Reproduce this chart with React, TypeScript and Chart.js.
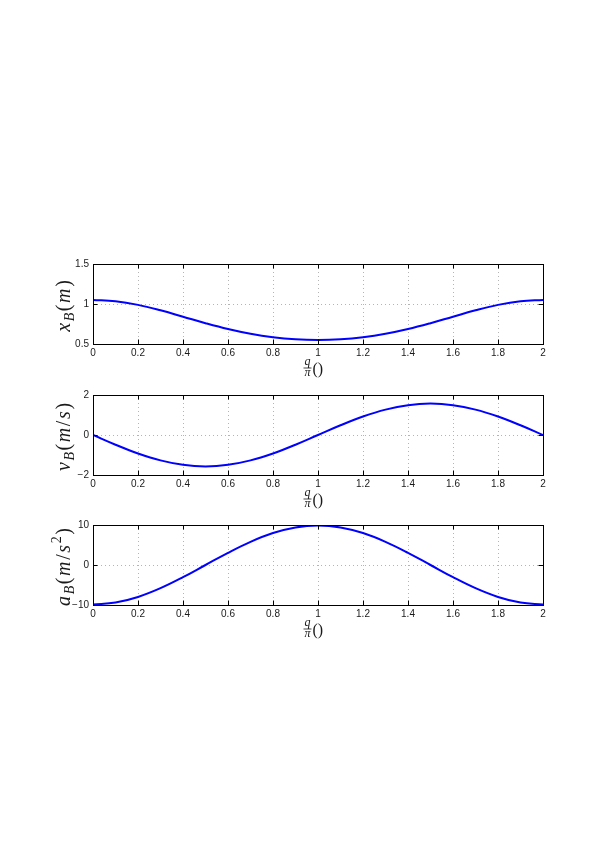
import React, { useEffect, useRef } from "react";
import { Chart, registerables } from "chart.js";

Chart.register(...registerables);

// q/pi sample positions
const qValues = [0, 0.1, 0.2, 0.3, 0.4, 0.5, 0.6, 0.7, 0.8, 0.9, 1.0, 1.1, 1.2, 1.3, 1.4, 1.5, 1.6, 1.7, 1.8, 1.9, 2.0];
// position x_B (m)
const xB = [1.05, 1.034, 0.989, 0.921, 0.841, 0.76, 0.687, 0.627, 0.584, 0.5585, 0.55, 0.5585, 0.584, 0.627, 0.687, 0.76, 0.841, 0.921, 0.989, 1.034, 1.05];
// velocity v_B (m/s)
const vB = [0, -0.485, -0.923, -1.27, -1.493, -1.57, -1.493, -1.27, -0.923, -0.485, 0, 0.485, 0.923, 1.27, 1.493, 1.57, 1.493, 1.27, 0.923, 0.485, 0];
// acceleration a_B (m/s^2)
const aB = [-9.87, -9.39, -7.99, -5.8, -3.05, 0, 3.05, 5.8, 7.99, 9.39, 9.87, 9.39, 7.99, 5.8, 3.05, 0, -3.05, -5.8, -7.99, -9.39, -9.87];

const xTicks = [0, 0.2, 0.4, 0.6, 0.8, 1, 1.2, 1.4, 1.6, 1.8, 2];
const xTickLabels = ["0", "0.2", "0.4", "0.6", "0.8", "1", "1.2", "1.4", "1.6", "1.8", "2"];

type Seg = { t: string; italic?: boolean; sub?: boolean; sup?: boolean };

const panels = [
  {
    top: 264,
    values: xB,
    yMin: 0.5,
    yMax: 1.5,
    yTicks: [0.5, 1, 1.5],
    yTickLabels: ["0.5", "1", "1.5"],
    label: [
      { t: "x", italic: true },
      { t: "B", italic: true, sub: true },
      { t: "(" },
      { t: "m", italic: true },
      { t: ")" },
    ] as Seg[],
  },
  {
    top: 395,
    values: vB,
    yMin: -2,
    yMax: 2,
    yTicks: [-2, 0, 2],
    yTickLabels: ["\u22122", "0", "2"],
    label: [
      { t: "v", italic: true },
      { t: "B", italic: true, sub: true },
      { t: "(" },
      { t: "m", italic: true },
      { t: "/" },
      { t: "s", italic: true },
      { t: ")" },
    ] as Seg[],
  },
  {
    top: 525,
    values: aB,
    yMin: -10,
    yMax: 10,
    yTicks: [-10, 0, 10],
    yTickLabels: ["\u221210", "0", "10"],
    label: [
      { t: "a", italic: true },
      { t: "B", italic: true, sub: true },
      { t: "(" },
      { t: "m", italic: true },
      { t: "/" },
      { t: "s", italic: true },
      { t: "2", sup: true },
      { t: ")" },
    ] as Seg[],
  },
];

const CANVAS_W = 599;
const CANVAS_H = 130;
const PAD_TOP = 10;
const PLOT_H = 80;
const Y_AXIS_W = 93;
const PAD_RIGHT = 56;
const SERIF = '"Liberation Serif", "DejaVu Serif", serif';
const SANS = '"Liberation Sans", Arial, sans-serif';
const GAP = 1.6;

function segFont(s: Seg) {
  const size = s.sub || s.sup ? 14 : 20;
  return `${s.italic ? "italic " : ""}${size}px ${SERIF}`;
}

function Panel({ cfg }: { cfg: (typeof panels)[number] }) {
  const ref = useRef<HTMLCanvasElement | null>(null);
  useEffect(() => {
    if (!ref.current) return;
    const decor = {
      id: "decor",
      afterDraw(chart: any) {
        const ctx = chart.ctx as CanvasRenderingContext2D;
        const a = chart.chartArea;
        const xs = chart.scales.x;
        const ys = chart.scales.y;
        ctx.save();
        // box
        ctx.strokeStyle = "#000";
        ctx.lineWidth = 1;
        ctx.strokeRect(Math.round(a.left) + 0.5, Math.round(a.top) + 0.5, Math.round(a.right - a.left), Math.round(a.bottom - a.top));
        // inward ticks
        const tl = 4.5;
        ctx.beginPath();
        for (const v of xTicks) {
          const px = Math.round(xs.getPixelForValue(v)) + 0.5;
          ctx.moveTo(px, a.bottom);
          ctx.lineTo(px, a.bottom - tl);
          ctx.moveTo(px, a.top);
          ctx.lineTo(px, a.top + tl);
        }
        for (const v of cfg.yTicks) {
          const py = Math.round(ys.getPixelForValue(v)) + 0.5;
          ctx.moveTo(a.left, py);
          ctx.lineTo(a.left + tl, py);
          ctx.moveTo(a.right, py);
          ctx.lineTo(a.right - tl, py);
        }
        ctx.stroke();

        // y label (rotated)
        ctx.fillStyle = "#1a1a1a";
        ctx.textBaseline = "alphabetic";
        ctx.textAlign = "left";
        let total = 0;
        cfg.label.forEach((s, i) => {
          ctx.font = segFont(s);
          total += ctx.measureText(s.t).width + (i < cfg.label.length - 1 ? GAP : 0);
        });
        ctx.save();
        ctx.translate(69.5, (a.top + a.bottom) / 2 + 2);
        ctx.rotate(-Math.PI / 2);
        let cx = -total / 2;
        for (const s of cfg.label) {
          ctx.font = segFont(s);
          const dy = s.sub ? 4 : s.sup ? -9 : 0;
          ctx.fillText(s.t, cx, dy);
          cx += ctx.measureText(s.t).width + GAP;
        }
        ctx.restore();

        // x label: q/pi ()
        const fx = (a.left + a.right) / 2 - 10.5;
        const barY = a.bottom + 23.5;
        ctx.textAlign = "center";
        ctx.font = `italic 12px ${SERIF}`;
        ctx.fillText("q", fx, barY - 2.5);
        ctx.fillText("\u03c0", fx, barY + 8.5);
        ctx.beginPath();
        ctx.strokeStyle = "#1a1a1a";
        ctx.lineWidth = 0.8;
        ctx.moveTo(fx - 4, barY + 0.5);
        ctx.lineTo(fx + 4, barY + 0.5);
        ctx.stroke();
        ctx.textAlign = "left";
        ctx.font = `16px ${SERIF}`;
        ctx.fillText("()", fx + 5, barY + 6);
        ctx.restore();
      },
    };

    const chart = new Chart(ref.current, {
      type: "line",
      data: {
        datasets: [
          {
            data: qValues.map((q, i) => ({ x: q, y: cfg.values[i] })),
            borderColor: "#0000ff",
            borderWidth: 2,
            pointRadius: 0,
            tension: 0.4,
            fill: false,
          },
        ],
      },
      options: {
        responsive: false,
        animation: false,
        devicePixelRatio: 1,
        layout: { padding: { top: PAD_TOP, right: PAD_RIGHT, left: 0, bottom: 0 } },
        plugins: { legend: { display: false }, tooltip: { enabled: false } },
        scales: {
          x: {
            type: "linear",
            min: 0,
            max: 2,
            afterBuildTicks: (s: any) => {
              s.ticks = xTicks.map((v) => ({ value: v }));
            },
            afterFit: (s: any) => {
              s.height = CANVAS_H - PAD_TOP - PLOT_H;
            },
            ticks: {
              color: "#1a1a1a",
              font: { family: SANS, size: 10 },
              padding: 3,
              maxRotation: 0,
              autoSkip: false,
              callback: (v: any) => {
                const i = xTicks.indexOf(Number(v));
                return i >= 0 ? xTickLabels[i] : "";
              },
            },
            grid: { color: "#b4b4b4", lineWidth: 1, drawTicks: false } as any,
            border: { display: false, dash: [1, 3] },
          },
          y: {
            type: "linear",
            min: cfg.yMin,
            max: cfg.yMax,
            afterBuildTicks: (s: any) => {
              s.ticks = cfg.yTicks.map((v) => ({ value: v }));
            },
            afterFit: (s: any) => {
              s.width = Y_AXIS_W;
            },
            ticks: {
              color: "#1a1a1a",
              font: { family: SANS, size: 10 },
              padding: 4,
              autoSkip: false,
              callback: (v: any) => {
                const i = cfg.yTicks.indexOf(Number(v));
                return i >= 0 ? cfg.yTickLabels[i] : "";
              },
            },
            grid: { color: "#b4b4b4", lineWidth: 1, drawTicks: false } as any,
            border: { display: false, dash: [1, 3] },
          },
        },
      } as any,
      plugins: [decor],
    });
    return () => chart.destroy();
  }, [cfg]);
  return (
    <canvas
      ref={ref}
      width={CANVAS_W}
      height={CANVAS_H}
      style={{ position: "absolute", left: 0, top: cfg.top - PAD_TOP, width: CANVAS_W, height: CANVAS_H }}
    />
  );
}

export default function App() {
  return (
    <div style={{ position: "absolute", left: 0, top: 0, width: 599, height: 848, background: "#fff" }}>
      {panels.map((p, i) => (
        <Panel key={i} cfg={p} />
      ))}
    </div>
  );
}
